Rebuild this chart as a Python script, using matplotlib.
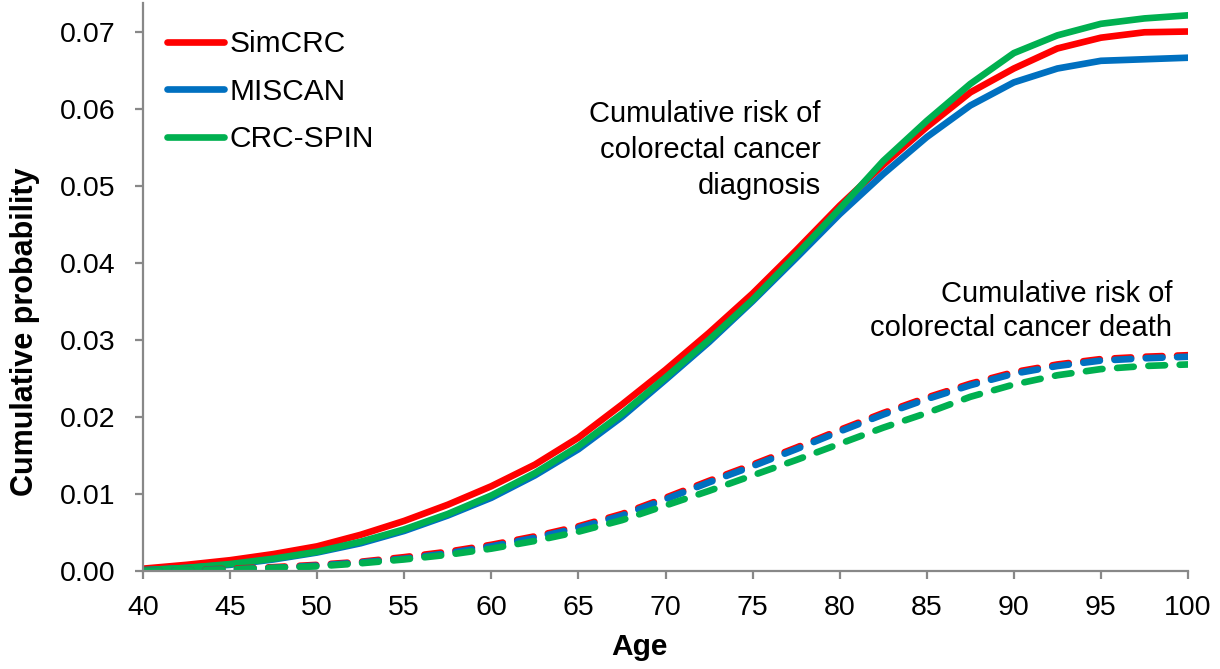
import numpy as np
import matplotlib.pyplot as plt

plt.rcParams['font.family'] = ['Liberation Sans', 'DejaVu Sans']

# ages (every 2.5 years)
ages = [40, 42.5, 45, 47.5, 50, 52.5, 55, 57.5, 60, 62.5, 65, 67.5, 70,
        72.5, 75, 77.5, 80, 82.5, 85, 87.5, 90, 92.5, 95, 97.5, 100]

# cumulative risk of CRC diagnosis
simcrc_dx = [0.0003, 0.0008, 0.0014, 0.0022, 0.0032, 0.0047, 0.0065, 0.0086, 0.0110,
             0.0138, 0.0173, 0.0216, 0.0261, 0.0309, 0.0360, 0.0416, 0.0474, 0.0527,
             0.0576, 0.0621, 0.0652, 0.0678, 0.0692, 0.0699, 0.0700]
miscan_dx = [0.0001, 0.0004, 0.0008, 0.0015, 0.0024, 0.0036, 0.0052, 0.0072, 0.0095,
             0.0124, 0.0158, 0.0200, 0.0248, 0.0297, 0.0350, 0.0406, 0.0463, 0.0515,
             0.0563, 0.0604, 0.0634, 0.0652, 0.0662, 0.0664, 0.0666]
crcspin_dx = [0.0001, 0.0004, 0.0009, 0.0016, 0.0025, 0.0038, 0.0054, 0.0074, 0.0098,
              0.0127, 0.0162, 0.0204, 0.0251, 0.0300, 0.0352, 0.0410, 0.0470, 0.0532,
              0.0584, 0.0632, 0.0672, 0.0695, 0.0710, 0.0717, 0.0721]

# cumulative risk of CRC death
simcrc_death = [0.0000, 0.0001, 0.0003, 0.0005, 0.0008, 0.0012, 0.0018, 0.0025, 0.0034,
                0.0045, 0.0058, 0.0074, 0.0095, 0.0117, 0.0138, 0.0160, 0.0183, 0.0205,
                0.0225, 0.0243, 0.0258, 0.0268, 0.0275, 0.0278, 0.0280]
miscan_death = [0.0000, 0.0001, 0.0002, 0.0004, 0.0007, 0.0011, 0.0016, 0.0023, 0.0032,
                0.0043, 0.0056, 0.0072, 0.0093, 0.0115, 0.0136, 0.0158, 0.0181, 0.0203,
                0.0223, 0.0241, 0.0256, 0.0266, 0.0273, 0.0276, 0.0278]
crcspin_death = [0.0000, 0.0001, 0.0002, 0.0004, 0.0006, 0.0010, 0.0015, 0.0021, 0.0029,
                 0.0039, 0.0051, 0.0066, 0.0085, 0.0104, 0.0124, 0.0144, 0.0165, 0.0186,
                 0.0205, 0.0226, 0.0242, 0.0254, 0.0262, 0.0266, 0.0268]

models = ['SimCRC', 'MISCAN', 'CRC-SPIN']
colors = ['#FF0000', '#0070C0', '#00B050']
dx = [simcrc_dx, miscan_dx, crcspin_dx]
death = [simcrc_death, miscan_death, crcspin_death]

fig = plt.figure(figsize=(12.2, 6.69), dpi=100)
ax = fig.add_axes([143 / 1220, 98 / 669, 1045 / 1220, 568 / 669])

lw = 4.8
for name, c, y in zip(models, colors, dx):
    ax.plot(ages, y, color=c, lw=lw, solid_capstyle='round', label=name)
for c, y in zip(colors, death):
    ax.plot(ages, y, color=c, lw=lw, linestyle=(0, (2.5, 2.2)), dash_capstyle='round')

ax.set_xlim(40, 100)
ax.set_ylim(0, 0.0737)
ax.set_xticks(np.arange(40, 101, 5))
ax.set_yticks(np.arange(0, 0.0701, 0.01))
ax.set_yticklabels(['%.2f' % v for v in np.arange(0, 0.0701, 0.01)])

for s in ['top', 'right']:
    ax.spines[s].set_visible(False)
for s in ['left', 'bottom']:
    ax.spines[s].set_color('#888888')
    ax.spines[s].set_linewidth(1.6)
ax.tick_params(axis='both', direction='out', length=6, width=1.6, color='#888888',
               labelsize=20.5)
ax.tick_params(axis='x', pad=11)
ax.tick_params(axis='y', pad=14)

ax.set_xlabel('Age', fontsize=21.5, fontweight='bold')
ax.set_ylabel('Cumulative probability', fontsize=22, fontweight='bold')
ax.xaxis.set_label_coords(0.4746, -0.110)
ax.yaxis.set_label_coords(-0.0986, 0.421)

ax.legend(loc='upper left', frameon=False, fontsize=21.5, handlelength=1.9,
          handletextpad=0.2, labelspacing=0.65, borderaxespad=0.3,
          bbox_to_anchor=(0.003, 0.989))

ax.text(78.9, 0.0546, 'Cumulative risk of\ncolorectal cancer\ndiagnosis', ha='right',
        va='center', fontsize=21, linespacing=1.37)
ax.text(99.1, 0.0337, 'Cumulative risk of\ncolorectal cancer death', ha='right',
        va='center', fontsize=21, linespacing=1.29)

fig.savefig('out.png', dpi=100)
